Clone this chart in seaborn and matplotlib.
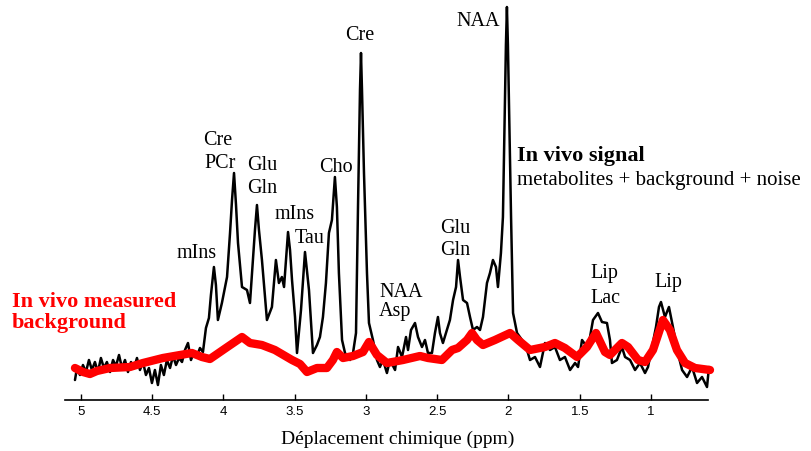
import matplotlib
matplotlib.use("Agg")
import matplotlib.pyplot as plt
import seaborn as sns
import pandas as pd

# In vivo signal (ppm, a.u.)
signal_ppm = [5.042, 5.028, 5.007, 4.986, 4.965, 4.944, 4.923, 4.902, 4.881, 4.860,
              4.839, 4.818, 4.796, 4.775, 4.754, 4.733, 4.712, 4.691, 4.670, 4.649,
              4.628, 4.607, 4.586, 4.565, 4.544, 4.523, 4.502, 4.481, 4.460, 4.439,
              4.418, 4.397, 4.375, 4.354, 4.333, 4.312, 4.291, 4.270, 4.249, 4.228,
              4.207, 4.186, 4.165, 4.144, 4.123, 4.102, 4.088, 4.067, 4.053, 4.039,
              4.011, 3.975, 3.954, 3.940, 3.926, 3.912, 3.898, 3.870, 3.835, 3.814,
              3.793, 3.779, 3.765, 3.751, 3.730, 3.695, 3.660, 3.632, 3.611, 3.590,
              3.575, 3.561, 3.547, 3.533, 3.519, 3.498, 3.484, 3.456, 3.428, 3.400,
              3.372, 3.344, 3.323, 3.302, 3.281, 3.260, 3.239, 3.218, 3.204, 3.190,
              3.168, 3.147, 3.112, 3.091, 3.070, 3.056, 3.042, 3.035, 3.028, 3.014,
              2.993, 2.979, 2.951, 2.923, 2.902, 2.881, 2.853, 2.832, 2.796, 2.775,
              2.747, 2.719, 2.705, 2.684, 2.656, 2.635, 2.607, 2.586, 2.565, 2.537,
              2.516, 2.495, 2.481, 2.460, 2.432, 2.411, 2.389, 2.368, 2.354, 2.340,
              2.319, 2.291, 2.270, 2.249, 2.221, 2.200, 2.179, 2.151, 2.130, 2.109,
              2.088, 2.074, 2.053, 2.039, 2.025, 2.018, 2.011, 2.004, 1.997, 1.982,
              1.968, 1.940, 1.905, 1.870, 1.849, 1.814, 1.779, 1.744, 1.709, 1.674,
              1.639, 1.604, 1.568, 1.533, 1.512, 1.484, 1.449, 1.428, 1.407, 1.372,
              1.344, 1.309, 1.288, 1.274, 1.239, 1.204, 1.182, 1.147, 1.112, 1.077,
              1.042, 1.021, 0.993, 0.965, 0.944, 0.930, 0.902, 0.874, 0.846, 0.811,
              0.782, 0.747, 0.712, 0.677, 0.642, 0.607, 0.593]
signal_val = [20, 32, 25, 35, 28, 40, 30, 38, 28, 42,
              32, 38, 28, 40, 34, 45, 32, 40, 28, 38,
              32, 42, 30, 38, 25, 32, 17, 30, 15, 35,
              25, 40, 32, 44, 35, 42, 38, 50, 57, 40,
              48, 44, 52, 48, 72, 82, 105, 133, 115, 80,
              97, 123, 167, 200, 227, 195, 157, 113, 110, 97,
              140, 170, 195, 170, 140, 80, 93, 140, 117, 123,
              113, 140, 168, 150, 120, 83, 47, 90, 148, 110,
              47, 55, 63, 83, 117, 167, 180, 223, 193, 127,
              60, 47, 40, 47, 67, 193, 310, 347, 310, 227,
              127, 77, 60, 40, 33, 40, 27, 40, 30, 53,
              43, 63, 50, 70, 77, 63, 53, 60, 47, 47,
              67, 83, 67, 57, 70, 80, 100, 113, 140, 123,
              100, 97, 83, 70, 73, 70, 83, 117, 127, 140,
              133, 113, 147, 183, 300, 355, 393, 355, 300, 183,
              87, 67, 60, 50, 40, 43, 33, 57, 50, 53,
              40, 43, 30, 37, 33, 60, 53, 63, 80, 87,
              78, 77, 60, 37, 40, 53, 43, 40, 30, 37,
              27, 33, 53, 73, 93, 98, 83, 93, 73, 47,
              30, 23, 33, 17, 23, 13, 33]

# In vivo measured background (ppm, a.u.)
bg_ppm = [5.042, 4.986, 4.937, 4.888, 4.796, 4.656, 4.565, 4.425, 4.305, 4.221,
          4.151, 4.095, 3.983, 3.870, 3.814, 3.730, 3.639, 3.519, 3.463, 3.414,
          3.344, 3.274, 3.232, 3.204, 3.161, 3.091, 3.021, 2.979, 2.923, 2.853,
          2.740, 2.621, 2.565, 2.467, 2.396, 2.354, 2.291, 2.256, 2.221, 2.179,
          2.095, 1.989, 1.933, 1.849, 1.744, 1.674, 1.604, 1.519, 1.449, 1.386,
          1.323, 1.288, 1.204, 1.161, 1.091, 1.042, 0.986, 0.916, 0.867, 0.818,
          0.761, 0.691, 0.586]
bg_val = [32, 28, 26, 29, 32, 33, 37, 42, 45, 47,
          43, 41, 52, 63, 57, 55, 50, 40, 36, 28,
          32, 32, 40, 48, 42, 44, 48, 58, 45, 37,
          40, 44, 42, 40, 50, 52, 60, 67, 60, 55,
          60, 67, 60, 50, 53, 57, 52, 43, 53, 67,
          48, 45, 57, 53, 40, 38, 50, 80, 70, 50,
          37, 32, 30]

tick_vals = [5, 4.5, 4, 3.5, 3, 2.5, 2, 1.5, 1]
tick_labels = ["5", "4.5", "4", "3.5", "3", "2.5", "2", "1.5", "1"]

# peak labels: (text, ppm, a.u., ha)
peak_labels = [
    ("NAA", 2.214, 374, "center"),
    ("Cre", 3.042, 360, "center"),
    ("Cre", 4.039, 255, "center"),
    ("PCr", 4.025, 232, "center"),
    ("Glu", 3.730, 230, "center"),
    ("Gln", 3.730, 207, "center"),
    ("mIns", 3.498, 181, "center"),
    ("Tau", 3.393, 157, "center"),
    ("mIns", 4.186, 142, "center"),
    ("Cho", 3.211, 228, "center"),
    ("NAA", 2.909, 103, "left"),
    ("Asp", 2.909, 84, "left"),
    ("Glu", 2.375, 167, "center"),
    ("Gln", 2.375, 145, "center"),
    ("Lip", 1.428, 122, "left"),
    ("Lac", 1.428, 97, "left"),
    ("Lip", 0.881, 113, "center"),
]

sns.set_theme(style="white")
serif = ["Liberation Serif", "DejaVu Serif"]

fig = plt.figure(figsize=(8.11, 4.51), dpi=100)
ax = fig.add_axes([65 / 811, 1 - 400 / 451, 643 / 811, 400 / 451])

df_sig = pd.DataFrame({"ppm": signal_ppm, "val": signal_val})
df_bg = pd.DataFrame({"ppm": bg_ppm, "val": bg_val})
sns.lineplot(data=df_sig, x="ppm", y="val", ax=ax, color="black", lw=1.8,
             estimator=None, sort=False, solid_joinstyle="round")
sns.lineplot(data=df_bg, x="ppm", y="val", ax=ax, color="#ff0000", lw=6.0,
             estimator=None, sort=False, solid_capstyle="round",
             solid_joinstyle="round")
for ln in ax.lines:
    ln.set_clip_on(False)

ax.set_xlim(5.112, 0.600)
ax.set_ylim(0, 400)
ax.set_yticks([])
ax.set_ylabel("")
ax.set_xticks(tick_vals)
ax.set_xticklabels(tick_labels, family=["Liberation Sans", "DejaVu Sans"], fontsize=9.5)
ax.tick_params(axis="x", direction="in", length=4, width=1, pad=4, colors="black",
               bottom=True)
for s in ["left", "top", "right"]:
    ax.spines[s].set_visible(False)
ax.spines["bottom"].set_color("black")
ax.spines["bottom"].set_linewidth(1.2)
ax.set_facecolor("none")

ax.set_xlabel("Déplacement chimique (ppm)", family=serif, fontsize=14, color="black",
              va="center")
ax.xaxis.set_label_coords((398 - 65) / 643, (400 - 439) / 400)

for txt, px, py, ha in peak_labels:
    ax.text(px, py, txt, ha=ha, va="baseline", family=serif, fontsize=14.5,
            color="black")

ax.text(1.940, 239, "In vivo signal", ha="left", va="baseline", family=serif,
        fontsize=16, fontweight="bold", color="black")
ax.text(1.940, 215, "metabolites + background + noise", ha="left", va="baseline",
        family=serif, fontsize=15, color="black", clip_on=False)
ax.text(5.484, 93, "In vivo measured", ha="left", va="baseline", family=serif,
        fontsize=16, fontweight="bold", color="#ff0000", clip_on=False)
ax.text(5.484, 72, "background", ha="left", va="baseline", family=serif,
        fontsize=16, fontweight="bold", color="#ff0000", clip_on=False)

fig.savefig("out.png", dpi=100, facecolor="white")
